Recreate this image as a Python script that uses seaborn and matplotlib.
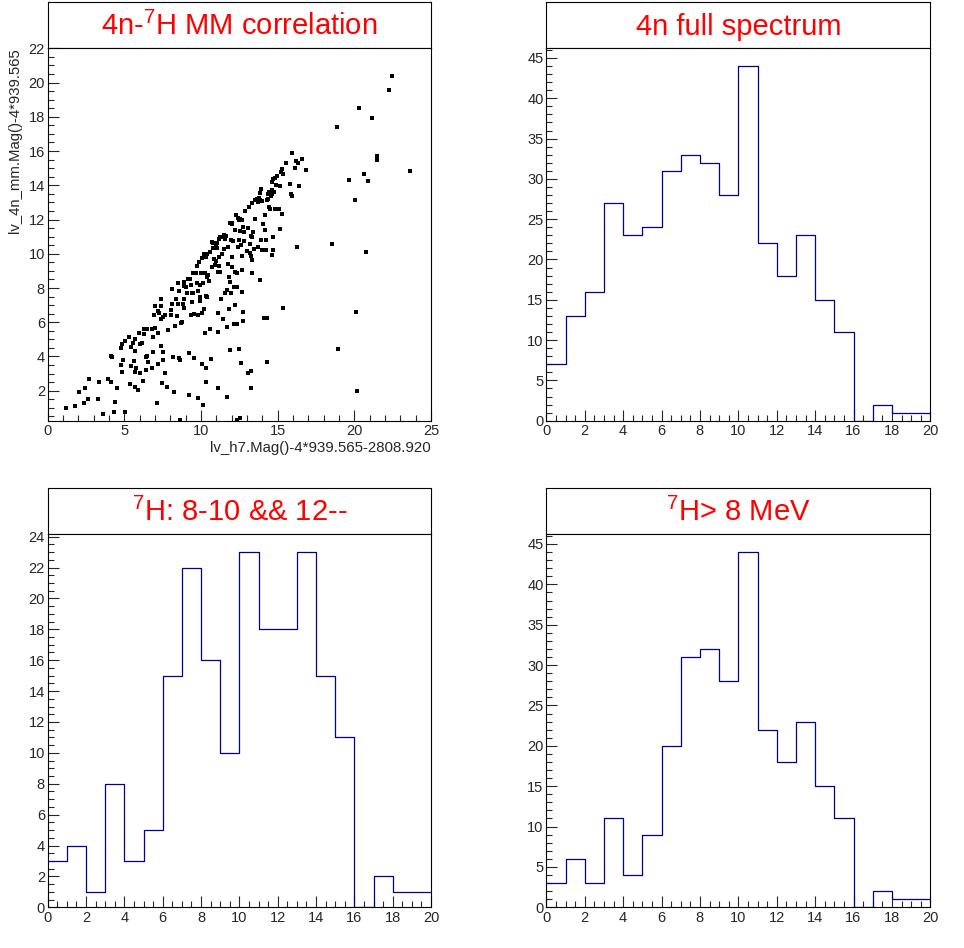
import numpy as np
import pandas as pd
import matplotlib
matplotlib.use("Agg")
import matplotlib.pyplot as plt
from matplotlib.ticker import MultipleLocator
import seaborn as sns

# 4n / 7H missing-mass correlation
mm_x = [1.22, 1.80, 2.07, 2.37, 2.46, 2.65, 2.72, 3.37, 3.28, 3.59, 3.96, 4.13, 4.11, 4.22, 4.35,
        4.41, 4.52, 4.76, 4.78, 4.83, 4.89, 4.87, 5.04, 5.07, 5.33, 5.39, 5.43, 5.43, 5.54, 5.61,
        5.70, 5.67, 5.70, 5.76, 5.72, 5.91, 5.96, 6.02, 6.04, 6.13, 6.20, 6.28, 6.30, 6.39, 6.41,
        6.48, 6.46, 6.57, 6.78, 6.80, 6.89, 6.85, 6.96, 6.98, 7.02, 7.17, 7.15, 7.22, 7.22, 7.28,
        7.37, 7.39, 7.41, 7.41, 7.43, 7.52, 7.54, 7.54, 7.63, 7.67, 7.78, 7.83, 8.02, 8.07, 8.09,
        8.13, 8.20, 8.24, 8.33, 8.35, 8.41, 8.48, 8.52, 8.57, 8.59, 8.63, 8.65, 8.67, 8.78, 8.83,
        8.87, 8.89, 8.91, 8.91, 9.00, 9.11, 9.13, 9.20, 9.24, 9.26, 9.33, 9.37, 9.39, 9.41, 9.48,
        9.50, 9.57, 9.57, 9.70, 9.72, 9.74, 9.78, 9.80, 9.83, 9.85, 9.91, 9.93, 9.93, 10.02, 10.04,
        10.07, 10.09, 10.15, 10.15, 10.17, 10.20, 10.26, 10.28, 10.30, 10.33, 10.35, 10.35, 10.37, 10.37, 10.39,
        10.46, 10.50, 10.57, 10.61, 10.63, 10.70, 10.74, 10.76, 10.80, 10.83, 10.91, 10.96, 10.98, 11.02, 11.07,
        11.09, 11.11, 11.13, 11.13, 11.17, 11.17, 11.20, 11.22, 11.24, 11.30, 11.35, 11.37, 11.41, 11.48, 11.50,
        11.57, 11.59, 11.65, 11.67, 11.70, 11.70, 11.74, 11.78, 11.80, 11.85, 11.89, 11.89, 11.91, 11.93, 11.98,
        12.02, 12.02, 12.04, 12.04, 12.11, 12.13, 12.15, 12.22, 12.22, 12.24, 12.28, 12.33, 12.33, 12.35, 12.35,
        12.39, 12.41, 12.46, 12.48, 12.50, 12.52, 12.54, 12.57, 12.59, 12.61, 12.65, 12.65, 12.70, 12.70, 12.72,
        12.74, 12.76, 12.78, 12.83, 12.89, 12.98, 13.07, 13.09, 13.15, 13.17, 13.20, 13.24, 13.26, 13.26, 13.28,
        13.30, 13.33, 13.35, 13.35, 13.41, 13.48, 13.50, 13.54, 13.63, 13.70, 13.74, 13.78, 13.83, 13.85, 13.87,
        13.91, 13.93, 13.96, 14.00, 14.07, 14.13, 14.17, 14.20, 14.22, 14.24, 14.28, 14.30, 14.30, 14.35, 14.39,
        14.43, 14.46, 14.50, 14.59, 14.61, 14.61, 14.63, 14.65, 14.67, 14.70, 14.72, 14.76, 14.83, 14.85, 14.89,
        14.93, 15.11, 15.15, 15.17, 15.22, 15.26, 15.30, 15.33, 15.37, 15.54, 15.80, 15.89, 15.91, 15.96, 16.15,
        16.20, 16.26, 16.30, 16.39, 16.57, 16.85, 18.57, 18.85, 18.91, 19.67, 20.07, 20.11, 20.15, 20.33, 20.63,
        20.78, 20.91, 21.17, 21.46, 21.50, 22.28, 22.48, 23.65]
mm_y = [0.97, 1.11, 1.91, 1.27, 2.14, 1.50, 2.66, 2.53, 1.50, 0.62, 2.66, 2.51, 4.05, 3.95, 0.73,
        1.32, 2.14, 3.52, 4.48, 4.71, 3.80, 3.08, 0.73, 4.93, 5.16, 2.40, 3.47, 4.58, 4.81, 3.76,
        4.30, 5.00, 2.24, 3.33, 3.08, 2.04, 5.35, 4.73, 3.06, 4.77, 2.57, 5.63, 5.30, 3.19, 3.95,
        4.05, 5.59, 3.65, 3.33, 5.61, 4.26, 5.14, 6.42, 5.65, 6.97, 5.35, 1.27, 3.54, 6.68, 6.52,
        4.62, 6.21, 6.93, 7.34, 2.43, 4.28, 3.80, 6.33, 3.06, 6.45, 2.24, 5.55, 6.72, 6.40, 7.06,
        7.96, 3.95, 1.91, 5.78, 7.36, 6.37, 8.28, 7.06, 7.82, 3.93, 3.80, 0.32, 5.94, 6.00, 7.06,
        8.37, 6.81, 7.36, 8.10, 8.04, 7.69, 8.51, 4.18, 1.73, 8.51, 8.18, 6.41, 7.69, 7.20, 8.86,
        7.73, 3.93, 6.47, 8.86, 8.28, 9.29, 6.41, 1.60, 7.82, 9.54, 7.24, 8.16, 7.50, 8.90, 9.78,
        6.52, 3.54, 1.17, 8.31, 9.99, 6.76, 5.35, 8.86, 7.54, 3.31, 2.49, 9.84, 7.46, 9.97, 8.66,
        8.74, 8.41, 10.09, 5.59, 3.86, 9.25, 10.71, 10.32, 10.61, 9.68, 9.35, 10.55, 9.58, 10.32, 10.61,
        5.45, 8.96, 2.18, 6.52, 9.31, 9.84, 10.84, 8.92, 11.00, 7.34, 11.00, 9.97, 6.21, 10.30, 11.09,
        7.69, 10.84, 11.04, 1.65, 7.88, 5.70, 10.42, 9.41, 8.66, 6.76, 11.82, 4.36, 8.37, 10.80, 7.69,
        11.78, 9.84, 9.25, 11.72, 10.76, 5.92, 8.04, 7.02, 11.39, 8.96, 12.27, 8.86, 5.90, 8.04, 0.30,
        12.08, 10.38, 11.98, 4.46, 10.80, 0.38, 11.35, 12.02, 10.51, 3.60, 11.98, 9.06, 9.88, 7.75, 6.09,
        11.59, 6.57, 11.30, 10.76, 12.49, 10.18, 3.02, 11.49, 12.76, 10.55, 10.03, 9.88, 3.16, 11.04, 2.14,
        11.00, 12.98, 9.64, 8.86, 11.30, 10.26, 12.02, 13.12, 13.22, 10.38, 13.00, 13.28, 13.12, 8.47, 13.55,
        13.78, 10.80, 10.22, 13.08, 11.74, 6.23, 11.39, 12.27, 10.80, 10.22, 6.23, 13.12, 3.66, 13.47, 13.22,
        12.74, 13.61, 12.64, 13.36, 13.71, 14.22, 13.51, 9.94, 11.00, 10.22, 14.34, 13.61, 14.45, 12.64, 14.00,
        14.55, 12.64, 13.94, 11.43, 14.79, 14.94, 12.31, 14.65, 6.82, 15.32, 14.06, 13.51, 13.38, 15.87, 14.98,
        15.43, 10.38, 15.28, 13.94, 15.55, 14.92, 10.55, 17.39, 4.42, 14.30, 13.14, 6.62, 1.97, 18.51, 14.65,
        10.09, 14.24, 17.92, 15.48, 15.71, 19.57, 20.37, 14.82]

# histograms: 20 bins of 1 MeV from 0 to 20
bin_centers = np.arange(0.5, 20, 1.0)
full_counts = [7, 13, 16, 27, 23, 24, 31, 33, 32, 28, 44, 22, 18, 23, 15, 11, 0, 2, 1, 1]
cut_counts = [3, 4, 1, 8, 3, 5, 15, 22, 16, 10, 23, 18, 18, 23, 15, 11, 0, 2, 1, 1]
gt8_counts = [3, 6, 3, 11, 4, 9, 20, 31, 32, 28, 44, 22, 18, 23, 15, 11, 0, 2, 1, 1]

sns.set_style("white")
plt.rcParams.update({
    "font.family": ["Liberation Sans", "DejaVu Sans"],
    "mathtext.default": "regular",
    "axes.edgecolor": "black",
    "axes.linewidth": 0.8,
    "xtick.direction": "in",
    "ytick.direction": "in",
    "xtick.major.size": 8,
    "xtick.minor.size": 4,
    "ytick.major.size": 8,
    "ytick.minor.size": 4,
    "xtick.major.width": 0.8,
    "ytick.major.width": 0.8,
    "xtick.minor.width": 0.8,
    "ytick.minor.width": 0.8,
    "xtick.labelsize": 10.5,
    "ytick.labelsize": 10.5,
    "xtick.major.pad": 2.5,
    "ytick.major.pad": 2,
})

fig = plt.figure(figsize=(9.64, 9.48), dpi=100)
fig.patch.set_facecolor("white")

W, H = 964.0, 948.0
cols = [(47.7, 431.0), (546.3, 930.3)]
rows = [(2.3, 48.3, 420.7), (488.3, 534.3, 907.3)]


def make_panel(c, r, title):
    x0, x1 = cols[c]
    t0, t1, b = rows[r]
    tax = fig.add_axes([x0 / W, (H - t1) / H, (x1 - x0) / W, (t1 - t0) / H])
    tax.set_xticks([])
    tax.set_yticks([])
    tax.set_facecolor("white")
    for s in tax.spines.values():
        s.set_visible(True)
        s.set_color("black")
        s.set_linewidth(0.8)
    tax.text(0.5, 0.28, title, color="#ff0000", fontsize=21,
             ha="center", va="baseline", transform=tax.transAxes)
    ax = fig.add_axes([x0 / W, (H - b) / H, (x1 - x0) / W, (b - t1) / H])
    ax.set_facecolor("white")
    return ax


def style_axes(ax, xmaj, xmin, ymaj, ymin):
    ax.xaxis.set_major_locator(MultipleLocator(xmaj))
    ax.xaxis.set_minor_locator(MultipleLocator(xmin))
    ax.yaxis.set_major_locator(MultipleLocator(ymaj))
    ax.yaxis.set_minor_locator(MultipleLocator(ymin))
    ax.tick_params(which="both", top=False, right=False, bottom=True, left=True)
    for s in ax.spines.values():
        s.set_visible(True)
        s.set_color("black")
        s.set_linewidth(0.8)


def draw_hist(ax, counts, ymax, ymaj, ymin):
    df = pd.DataFrame({"x": bin_centers, "w": counts})
    sns.histplot(data=df, x="x", weights="w", bins=20, binrange=(0, 20),
                 element="step", fill=False, color="#000099", linewidth=0.9, ax=ax)
    ax.set_xlim(0, 20)
    ax.set_ylim(0, ymax)
    ax.set_xlabel("")
    ax.set_ylabel("")
    style_axes(ax, 2, 0.5, ymaj, ymin)


# top left: scatter
ax1 = make_panel(0, 0, r"4n-$^{7}$H MM correlation")
sc = pd.DataFrame({"x": mm_x, "y": mm_y})
sns.scatterplot(data=sc, x="x", y="y", marker="s", s=5, color="black",
                linewidth=0, ax=ax1)
ax1.set_xlim(0, 25)
ax1.set_ylim(0.25, 22)
style_axes(ax1, 5, 1, 2, 0.5)
ax1.set_xlabel("lv_h7.Mag()-4*939.565-2808.920", loc="right", fontsize=10.8, labelpad=2)
ax1.set_ylabel("lv_4n_mm.Mag()-4*939.565", loc="top", fontsize=10.7, labelpad=5)

# top right
ax2 = make_panel(1, 0, "4n full spectrum")
draw_hist(ax2, full_counts, 1.05 * max(full_counts), 5, 1)

# bottom left
ax3 = make_panel(0, 1, r"$^{7}$H: 8-10 && 12--")
draw_hist(ax3, cut_counts, 1.05 * max(cut_counts), 2, 0.5)

# bottom right
ax4 = make_panel(1, 1, r"$^{7}$H> 8 MeV")
draw_hist(ax4, gt8_counts, 1.05 * max(gt8_counts), 5, 1)

fig.savefig("out.png", dpi=100, facecolor="white")
